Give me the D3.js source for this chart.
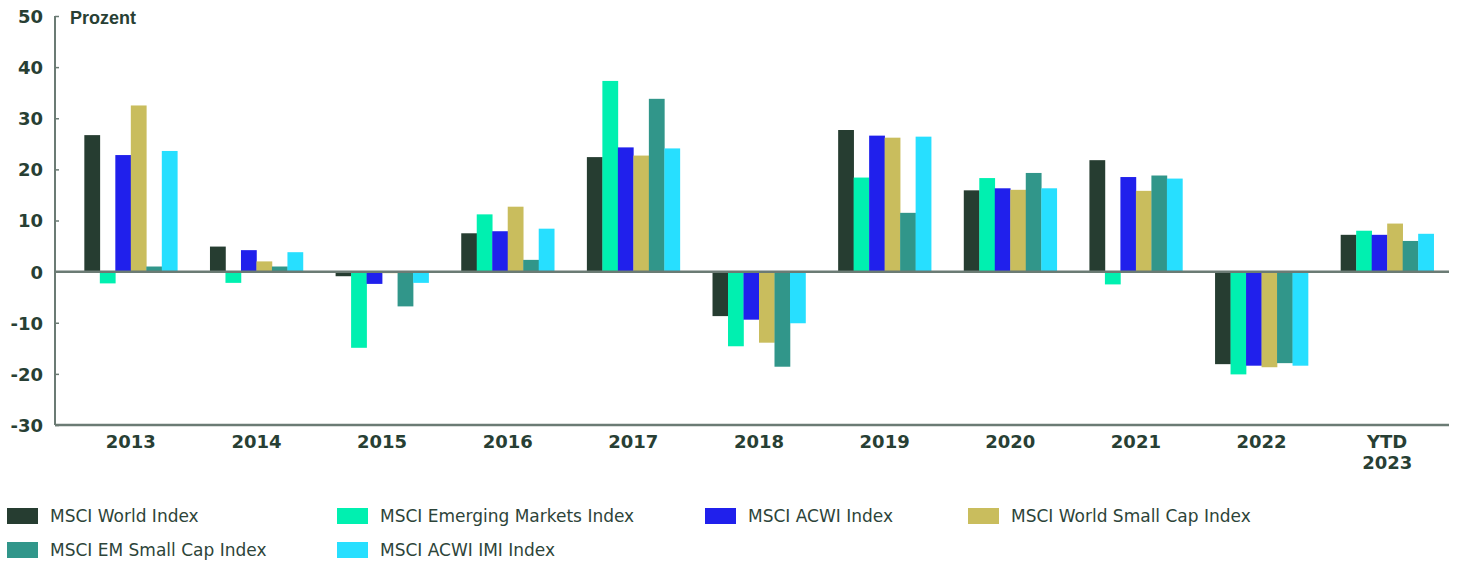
<!DOCTYPE html>
<html>
<head>
<meta charset="utf-8">
<script src="https://cdn.jsdelivr.net/npm/d3@7/dist/d3.min.js"></script>
<style>
    body { margin: 0; background: #fff; }
    #chart { width: 1457px; height: 563px; }
</style>
</head>
<body>
<div id="chart"></div>
<script>
// Calendar-year returns in percent
var categories = ["2013", "2014", "2015", "2016", "2017", "2018", "2019", "2020", "2021", "2022", "YTD 2023"];
var seriesNames = ["MSCI World Index", "MSCI Emerging Markets Index", "MSCI ACWI Index",
    "MSCI World Small Cap Index", "MSCI EM Small Cap Index", "MSCI ACWI IMI Index"];
var seriesColors = ["#263d31", "#00f0b0", "#2020ec", "#c9bd5d", "#31968a", "#27dfff"];

var worldIndex      = [26.7,  4.9,  -0.9,  7.5, 22.4,  -8.7, 27.7, 15.9, 21.8, -18.1, 7.2];
var emergingMarkets = [-2.3, -2.2, -14.9, 11.2, 37.3, -14.6, 18.4, 18.3, -2.5, -20.1, 8.0];
var acwiIndex       = [22.8,  4.2,  -2.4,  7.9, 24.3,  -9.4, 26.6, 16.3, 18.5, -18.4, 7.2];
var worldSmallCap   = [32.5,  2.0,  -0.3, 12.7, 22.7, -13.9, 26.2, 16.0, 15.8, -18.7, 9.4];
var emSmallCap      = [ 1.0,  1.0,  -6.8,  2.3, 33.8, -18.6, 11.5, 19.3, 18.8, -17.9, 6.0];
var acwiImi         = [23.6,  3.8,  -2.2,  8.4, 24.1, -10.1, 26.4, 16.3, 18.2, -18.4, 7.4];

var yTicks = [50, 40, 30, 20, 10, 0, -10, -20, -30];

BarVis = function(_parentElement) {
    this.parentElement = _parentElement;
    this.initVis();
};

BarVis.prototype.initVis = function() {
    let vis = this;

    vis.series = [worldIndex, emergingMarkets, acwiIndex, worldSmallCap, emSmallCap, acwiImi];
    vis.textColor = "#283f34";
    vis.axisColor = "#6b7b74";

    vis.svg = d3.select(vis.parentElement).append("svg")
        .attr("width", 1457)
        .attr("height", 563);

    vis.axisLeft = 55;
    vis.axisRight = 1449;

    vis.y = d3.scaleLinear()
        .domain([-30, 50])
        .range([425, 16]);

    vis.x = d3.scaleBand()
        .domain(categories)
        .range([68, 1450])
        .paddingInner(0.26)
        .paddingOuter(0.13);

    vis.xInner = d3.scaleBand()
        .domain(d3.range(seriesNames.length))
        .range([0, vis.x.bandwidth()]);

    // bars
    let groups = vis.svg.selectAll(".year-group")
        .data(categories)
        .enter().append("g")
        .attr("class", "year-group")
        .attr("transform", function(d) { return "translate(" + vis.x(d) + ",0)"; });

    groups.selectAll("rect")
        .data(function(d, i) {
            return vis.series.map(function(s, j) { return { s: j, v: s[i] }; });
        })
        .enter().append("rect")
        .attr("x", function(d) { return vis.xInner(d.s); })
        .attr("width", vis.xInner.bandwidth() + 0.3)
        .attr("y", function(d) { return vis.y(Math.max(0, d.v)); })
        .attr("height", function(d) { return Math.abs(vis.y(d.v) - vis.y(0)); })
        .attr("fill", function(d) { return seriesColors[d.s]; });

    // y axis
    vis.yAxis = d3.axisLeft(vis.y)
        .tickValues(yTicks)
        .tickSize(-4)
        .tickPadding(12)
        .tickFormat(d3.format("d"));

    let yg = vis.svg.append("g")
        .attr("class", "y-axis")
        .attr("transform", "translate(" + vis.axisLeft + ",0)")
        .call(vis.yAxis);

    yg.select(".domain").remove();
    yg.selectAll(".tick line")
        .attr("stroke", vis.axisColor)
        .attr("stroke-width", 1.5);
    yg.selectAll(".tick text")
        .attr("fill", vis.textColor)
        .attr("font-family", "DejaVu Sans")
        .attr("font-weight", "bold")
        .attr("font-size", 18)
        .attr("dy", "0.36em")
        .text(function(d) { return d < 0 ? "-" + Math.abs(d) : d; });

    vis.svg.append("line")
        .attr("x1", vis.axisLeft)
        .attr("x2", vis.axisLeft)
        .attr("y1", vis.y(50))
        .attr("y2", vis.y(-30))
        .attr("stroke", vis.axisColor)
        .attr("stroke-width", 2);

    // zero line and bottom line
    [0, -30].forEach(function(v) {
        vis.svg.append("line")
            .attr("x1", vis.axisLeft)
            .attr("x2", vis.axisRight)
            .attr("y1", vis.y(v))
            .attr("y2", vis.y(v))
            .attr("stroke", vis.axisColor)
            .attr("stroke-width", 2.5);
    });

    vis.svg.append("text")
        .attr("x", 70)
        .attr("y", 24)
        .attr("fill", vis.textColor)
        .attr("font-family", "Liberation Sans")
        .attr("font-weight", "bold")
        .attr("font-size", 18)
        .text("Prozent");

    // x labels
    let xl = vis.svg.selectAll(".x-label")
        .data(categories)
        .enter().append("text")
        .attr("class", "x-label")
        .attr("text-anchor", "middle")
        .attr("fill", vis.textColor)
        .attr("font-family", "DejaVu Sans")
        .attr("font-weight", "bold")
        .attr("font-size", 18)
        .attr("y", 448);

    xl.each(function(d) {
        let parts = d.split(" ");
        let cx = vis.x(d) + vis.x.bandwidth() / 2;
        d3.select(this).selectAll("tspan")
            .data(parts)
            .enter().append("tspan")
            .attr("x", cx)
            .attr("dy", function(p, i) { return i === 0 ? 0 : 21; })
            .text(function(p) { return p; });
    });

    // legend
    let legendX = [7, 337, 705, 968];
    let legendY = [508, 542];
    let legend = vis.svg.selectAll(".legend-item")
        .data(seriesNames)
        .enter().append("g")
        .attr("class", "legend-item")
        .attr("transform", function(d, i) {
            let col = i < 4 ? i : i - 4;
            let row = i < 4 ? 0 : 1;
            return "translate(" + legendX[col] + "," + legendY[row] + ")";
        });

    legend.append("rect")
        .attr("width", 31)
        .attr("height", 16)
        .attr("fill", function(d, i) { return seriesColors[i]; });

    legend.append("text")
        .attr("x", 43)
        .attr("y", 14)
        .attr("fill", "#2d4439")
        .attr("font-family", "DejaVu Sans")
        .attr("font-size", 17)
        .text(function(d) { return d; });
};

new BarVis("#chart");
</script>
</body>
</html>
